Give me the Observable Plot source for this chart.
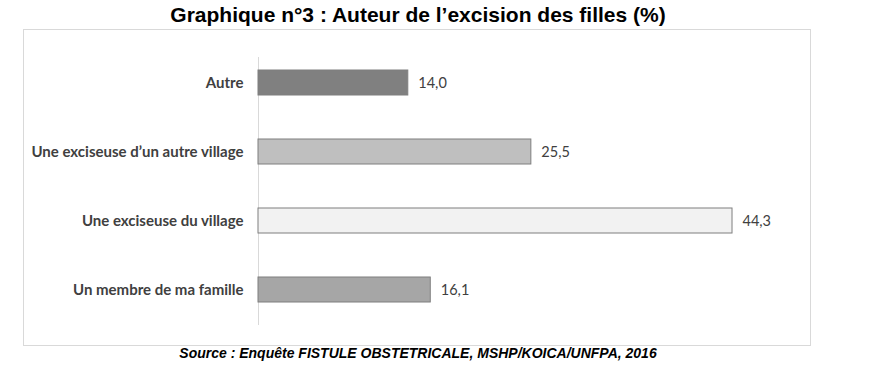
<!DOCTYPE html>
<html>
<head>
<meta charset="utf-8">
<script src="https://cdn.jsdelivr.net/npm/d3@7"></script>
<script src="https://cdn.jsdelivr.net/npm/@observablehq/plot@0.6"></script>
<style>
  html, body { margin: 0; padding: 0; background: #fff; }
  body { width: 872px; height: 370px; position: relative; overflow: hidden; }
  #title { position: absolute; left: 0; top: 3px; width: 836px; text-align: center;
    font-family: "Liberation Sans", Arial, sans-serif; font-weight: bold; font-size: 21px; color: #000; }
  #box { position: absolute; left: 23px; top: 29px; width: 786px; height: 315px; border: 1px solid #d9d9d9; }
  #caption { position: absolute; left: 0; top: 345px; width: 836px; text-align: center;
    font-family: "Liberation Sans", Arial, sans-serif; font-weight: bold; font-style: italic; font-size: 14px; color: #000; }
</style>
</head>
<body>
<div id="title">Graphique n°3 : Auteur de l’excision des filles (%)</div>
<div id="box"></div>
<div id="caption">Source : Enquête FISTULE OBSTETRICALE, MSHP/KOICA/UNFPA, 2016</div>
<script>
const categories = ["Autre", "Une exciseuse d’un autre village", "Une exciseuse du village", "Un membre de ma famille"];
const values = [14.0, 25.5, 44.3, 16.1];
const barColors = ["#808080", "#bfbfbf", "#f2f2f2", "#a6a6a6"];

const data = categories.map((c, i) => ({cat: c, value: values[i]}));
const fmt = v => v.toFixed(1).replace(".", ",");

const chart = Plot.plot({
  width: 786,
  height: 315,
  marginLeft: 234,
  marginRight: 17,
  marginTop: 27,
  marginBottom: 20,
  style: {fontFamily: "Lato, 'Open Sans', sans-serif", background: "transparent"},
  x: {domain: [0, 50], axis: null},
  y: {domain: categories, paddingInner: 0.639, paddingOuter: 0.256, align: 0.367, label: null},
  color: {domain: categories, range: barColors},
  marks: [
    Plot.ruleX([0], {stroke: "#d9d9d9", strokeWidth: 1}),
    Plot.barX(data, {x: "value", y: "cat", fill: "cat", stroke: "#7f7f7f", strokeWidth: 1}),
    Plot.text(data, {x: "value", y: "cat", text: d => fmt(d.value), dx: 10, textAnchor: "start", fill: "#404040", fontSize: 14.5}),
    Plot.axisY({tickSize: 0, tickPadding: 15, fontSize: 15, fontWeight: "bold", fill: "#404040", label: null})
  ]
});
document.getElementById("box").appendChild(chart);
</script>
</body>
</html>
